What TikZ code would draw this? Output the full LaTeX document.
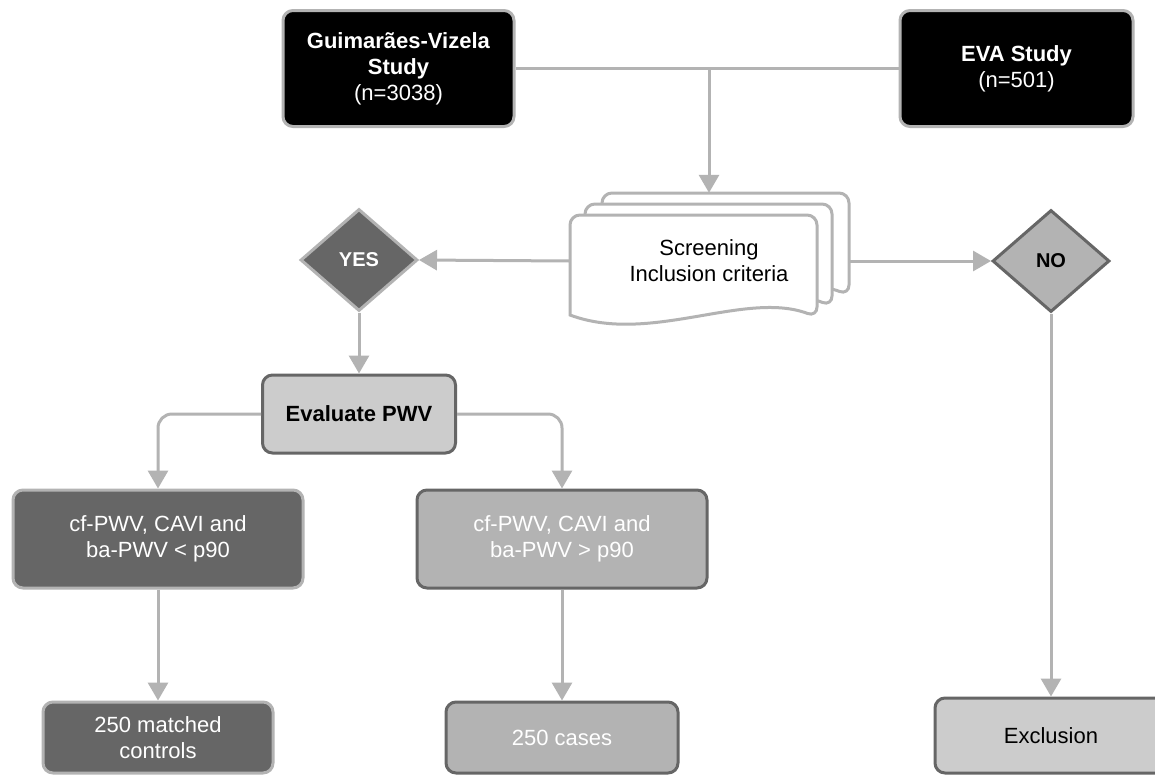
\documentclass[tikz,border=0pt]{standalone}
\usepackage{fontspec}
\setmainfont{Liberation Sans}
\usetikzlibrary{arrows.meta,positioning,shapes.geometric}
\definecolor{boxdark}{HTML}{666666}
\definecolor{boxmid}{HTML}{B3B3B3}
\definecolor{boxlight}{HTML}{CCCCCC}
\tikzset{
  block/.style={draw=boxdark, line width=3pt, rounded corners=10pt, align=center,
    inner sep=4pt, font=\fontsize{22}{26}\selectfont},
  studyblock/.style={block, draw=boxmid, fill=black, text=white,
    minimum width=231pt, minimum height=116pt},
  darkblock/.style={block, draw=boxmid, fill=boxdark, text=white},
  midblock/.style={block, fill=boxmid, text=white},
  lightblock/.style={block, fill=boxlight},
  decision/.style={diamond, aspect=1.1, line width=3pt, inner sep=0pt,
    minimum width=117pt, minimum height=102pt, font=\fontsize{20}{24}\selectfont\bfseries},
  docpage/.style={draw=boxmid, line width=3pt, fill=white},
  link/.style={draw=boxmid, line width=3pt},
  arr/.style={link, -{Triangle[length=18pt,width=20pt]}}
}

\begin{document}
\begin{tikzpicture}[x=1pt, y=-1pt]
  \fill[white] (0,0) rectangle (1155,774);
  \useasboundingbox (0,0) rectangle (1155,774);

  \node[studyblock] (gv) at (398.5,68.5) {\textbf{Guimarães-Vizela}\\\textbf{Study}\\(n=3038)};
  \node[studyblock, minimum width=233pt] (eva) at (1016.5,68.5) {\textbf{EVA Study}\\(n=501)};

  % stacked screening sheets
  \foreach \dx/\dy in {32/-22, 15/-11, 0/0}
    \draw[docpage, shift={(\dx,\dy)}] (570,315) [rounded corners=10pt] -- (570,215) -- (817,215)
      -- (817,317) [sharp corners] .. controls (745,290) and (650,345) .. (570,315) -- cycle;
  \node[minimum width=278pt, minimum height=136pt, inner sep=0pt, align=center,
    font=\fontsize{22}{26}\selectfont] (screen) at (709,261) {Screening\\Inclusion criteria};

  \node[decision, draw=boxmid, fill=boxdark, text=white] (yes) at (359,260) {YES};
  \node[decision, draw=boxdark, fill=boxmid] (no) at (1051,261) {NO};

  \node[lightblock, minimum width=193pt, minimum height=78pt] (eval) at (359,414) {\textbf{Evaluate PWV}};
  \node[darkblock, minimum width=290pt, minimum height=98pt] (cflow) at (158,539) {cf-PWV, CAVI and\\ba-PWV < p90};
  \node[midblock, minimum width=290pt, minimum height=98pt] (cfhigh) at (562,539) {cf-PWV, CAVI and\\ba-PWV > p90};

  \node[darkblock, minimum width=230pt, minimum height=71pt] (ctrl) at (158,737.5) {250 matched\\controls};
  \node[midblock, minimum width=232pt, minimum height=71pt] (cases) at (562,737.5) {250 cases};
  \node[lightblock, minimum width=232pt, minimum height=75pt] (excl) at (1051,735.5) {Exclusion};

  \draw[link] (gv.east) -- (eva.west);
  \coordinate (split) at (gv.east -| screen.north);
  \draw[arr] (split) -- (screen.north);
  \draw[arr] (screen.west) -- (yes.east);
  \draw[arr] (screen.east) -- (no.west);
  \draw[arr] (yes.south) -- (eval.north);
  \draw[arr, rounded corners=14pt] (eval.west) -| (cflow.north);
  \draw[arr, rounded corners=14pt] (eval.east) -| (cfhigh.north);
  \draw[arr] (cflow.south) -- (ctrl.north);
  \draw[arr] (cfhigh.south) -- (cases.north);
  \draw[arr] (no.south) -- (excl.north);
\end{tikzpicture}
\end{document}
